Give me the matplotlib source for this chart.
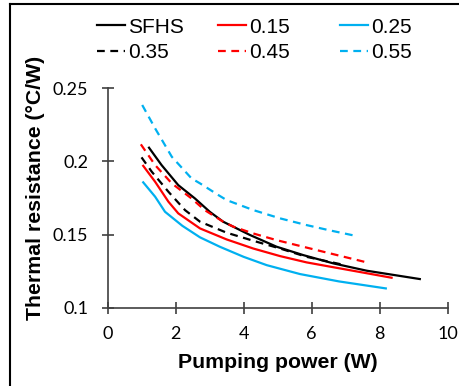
import matplotlib
matplotlib.use("Agg")
import matplotlib.pyplot as plt
from matplotlib.lines import Line2D

# pumping power (W) and thermal resistance (C/W)
sfhs_x = [1.22, 1.59, 2.08, 2.57, 3.01, 3.40, 4.19, 4.97, 5.75, 6.64, 7.62, 9.18]
sfhs_y = [0.2094, 0.1975, 0.1838, 0.1747, 0.1655, 0.1588, 0.1497, 0.1417, 0.1360, 0.1303, 0.1253, 0.1196]

r15_x = [1.05, 1.40, 1.79, 2.08, 2.72, 3.50, 4.28, 5.07, 5.85, 6.49, 7.40, 8.35]
r15_y = [0.1970, 0.1861, 0.1725, 0.1645, 0.1542, 0.1467, 0.1405, 0.1353, 0.1310, 0.1283, 0.1245, 0.1205]

r25_x = [1.05, 1.40, 1.69, 2.20, 2.72, 3.30, 4.00, 4.68, 5.66, 6.80, 8.18]
r25_y = [0.1857, 0.1759, 0.1656, 0.1560, 0.1481, 0.1417, 0.1348, 0.1291, 0.1230, 0.1180, 0.1132]

r35_x = [1.00, 1.30, 1.79, 2.28, 2.72, 3.50, 4.28, 5.07, 5.85, 6.90]
r35_y = [0.2028, 0.1930, 0.1793, 0.1667, 0.1588, 0.1513, 0.1458, 0.1405, 0.1348, 0.1295]

r45_x = [0.98, 1.40, 1.89, 2.47, 2.86, 3.40, 3.70, 4.28, 4.97, 5.75, 6.34, 7.62]
r45_y = [0.2117, 0.1975, 0.1850, 0.1747, 0.1667, 0.1588, 0.1554, 0.1508, 0.1462, 0.1417, 0.1383, 0.1310]

r55_x = [1.02, 1.40, 1.89, 2.47, 2.72, 3.26, 3.50, 4.28, 5.07, 5.85, 6.49, 7.32]
r55_y = [0.2386, 0.2226, 0.2032, 0.1884, 0.1850, 0.1770, 0.1736, 0.1668, 0.1611, 0.1565, 0.1531, 0.1490]

labels = ["SFHS", "0.15", "0.25", "0.35", "0.45", "0.55"]
xticks = [0, 2, 4, 6, 8, 10]
yticks = [0.1, 0.15, 0.2, 0.25]
ytick_labels = ["0.1", "0.15", "0.2", "0.25"]

black = "#000000"
red = "#ff0000"
blue = "#00b0f0"
dash = (0, (3.5, 2.5))

fig = plt.figure(figsize=(4.6, 3.86), dpi=100)
ax = fig.add_axes([0.2337, 0.2028, 0.7396, 0.5684])

lines = []
lines += ax.plot(sfhs_x, sfhs_y, color=black, lw=1.6)
lines += ax.plot(r15_x, r15_y, color=red, lw=1.6)
lines += ax.plot(r25_x, r25_y, color=blue, lw=1.6)
lines += ax.plot(r35_x, r35_y, color=black, lw=1.6, linestyle=dash)
lines += ax.plot(r45_x, r45_y, color=red, lw=1.6, linestyle=dash)
lines += ax.plot(r55_x, r55_y, color=blue, lw=1.6, linestyle=dash)

ax.set_xlim(0, 10)
ax.set_ylim(0.1, 0.25)
ax.set_xticks(xticks)
ax.set_yticks(yticks)
ax.set_yticklabels(ytick_labels)

for s in ["top", "right"]:
    ax.spines[s].set_visible(False)
for s in ["left", "bottom"]:
    ax.spines[s].set_color("#404040")
    ax.spines[s].set_linewidth(1.2)

ax.tick_params(direction="inout", length=8, width=1.2, color="#404040",
               labelsize=13)
ax.tick_params(axis="x", pad=9)
ax.tick_params(axis="y", pad=10)
for t in ax.get_xticklabels() + ax.get_yticklabels():
    t.set_family("Lato")

fig.text(0.604, 0.0596, "Pumping power (W)", fontsize=15.3, fontweight="bold",
         family="Liberation Sans", ha="center", va="center")
fig.text(0.078, 0.514, "Thermal resistance (°C/W)", fontsize=15.3,
         fontweight="bold", family="Liberation Sans", ha="center",
         va="center", rotation=90)

# legend: three columns, solid on top row, dashed below
col_x = [97 / 460, 218 / 460, 340 / 460]
for c in range(3):
    fig.legend([lines[c], lines[c + 3]], [labels[c], labels[c + 3]],
               loc="upper left", bbox_to_anchor=(col_x[c], 0.954),
               frameon=False, borderpad=0, borderaxespad=0,
               handlelength=1.33, handletextpad=0.15, labelspacing=0.3,
               prop={"family": "Liberation Sans", "size": 15})

# outer frame (top and left edges visible in the original)
fig.add_artist(Line2D([0.021, 1.0], [0.989, 0.989], color="black", lw=1.5,
                      transform=fig.transFigure))
fig.add_artist(Line2D([0.021, 0.021], [0.0, 0.989], color="black", lw=1.5,
                      transform=fig.transFigure))

fig.savefig("out.png", dpi=100)
